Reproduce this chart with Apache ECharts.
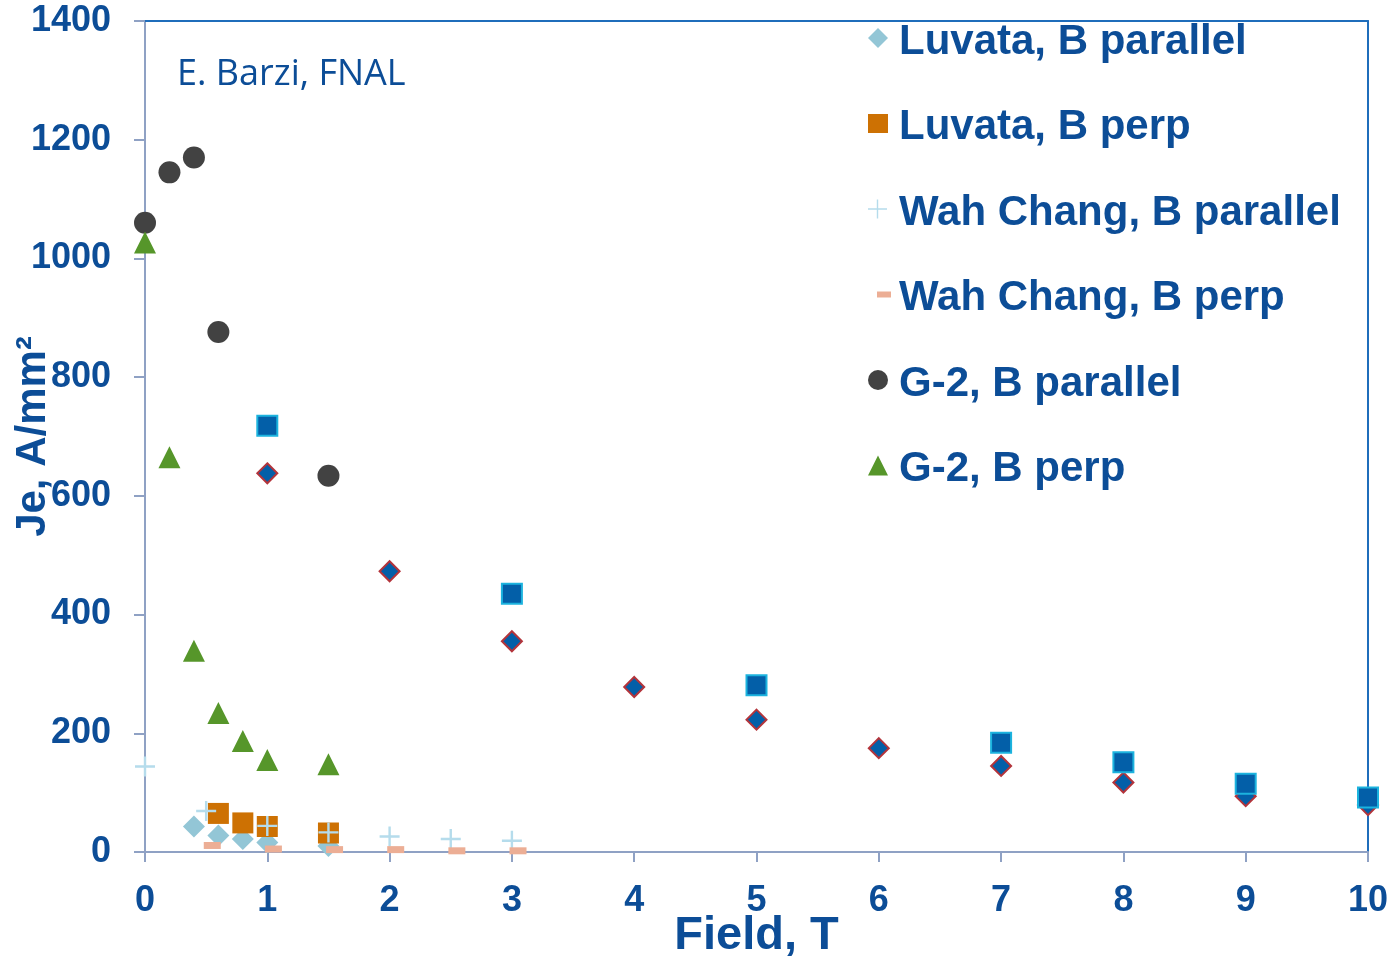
<!DOCTYPE html>
<html>
<head>
<meta charset="utf-8">
<script src="https://cdn.jsdelivr.net/npm/echarts@6/dist/echarts.min.js"></script>
<style>
html,body{margin:0;padding:0;background:#fff;}
#chart{width:1393px;height:959px;}
</style>
</head>
<body>
<div id="chart"></div>
<script>
// ---- data (Field T, Je A/mm^2) ----
const xTicks = [0,1,2,3,4,5,6,7,8,9,10];
const yTicks = [0,200,400,600,800,1000,1200,1400];

const luvataParX = [0.4, 0.6, 0.8, 1.0, 1.5];
const luvataParY = [43, 28, 22, 16, 10];

const luvataPerpX = [0.6, 0.8, 1.0, 1.5];
const luvataPerpY = [65, 49, 43, 32];

const wahParX = [0, 0.5, 1.0, 1.5, 2.0, 2.5, 3.0];
const wahParY = [144, 69, 44, 33, 26, 22, 19];

const wahPerpX = [0.55, 1.05, 1.55, 2.05, 2.55, 3.05];
const wahPerpY = [11, 5, 4, 4, 2, 2];

const g2ParX = [0, 0.2, 0.4, 0.6, 1.5];
const g2ParY = [1060, 1145, 1170, 876, 634];

const g2PerpX = [0, 0.2, 0.4, 0.6, 0.8, 1.0, 1.5];
const g2PerpY = [1027, 665, 339, 234, 187, 155, 148];

const blueDiamondX = [1, 2, 3, 4, 5, 6, 7, 8, 9, 10];
const blueDiamondY = [638, 473, 355, 278, 223, 175, 145, 117, 94, 79];

const blueSquareX = [1, 3, 5, 7, 8, 9, 10];
const blueSquareY = [718, 435, 281, 184, 151, 115, 92];

const legendNames = ['Luvata, B parallel','Luvata, B perp','Wah Chang, B parallel','Wah Chang, B perp','G-2, B parallel','G-2, B perp'];

function pts(xs, ys){ return xs.map((x,i)=>[x, ys[i]]); }

const TXT = '#0c4d97';
const AXC = '#8fa1c4';
const BORDER = '#1f6dbb';
const FONT = 'Liberation Sans, Arial, sans-serif';
const plusPath = 'path://M0,8.8H20V11.2H0Z M8.8,0H11.2V20H8.8Z';
// legend icons: 26x28 frame, visible shape in the upper-left 20x20
const FR = 'path://M0,0M26,28';
const iconDiamond = FR + 'M10,0L20,10L10,20L0,10Z';
const iconRect = FR + 'M0,0.5H20V19.5H0Z';
const iconPlus = FR + 'M0,9.3H19V10.7H0Z M8.8,0.5H10.2V19.5H8.8Z';
const iconDash = FR + 'M9,7H23V13H9Z';
const iconCircle = FR + 'M0,10A10,10,0,1,1,20,10A10,10,0,1,1,0,10Z';
const iconTriangle = FR + 'M10,0L20,20L0,20Z';

const chart = echarts.init(document.getElementById('chart'), null, {renderer:'canvas'});
const option = {
  animation: false,
  backgroundColor: '#ffffff',
  grid: {left:145, right:25, top:21, bottom:107, containLabel:false, outerBoundsMode:'none'},
  xAxis: [{
    type:'value', min:0, max:10, interval:1,
    axisLine:{show:true, onZero:false, lineStyle:{color:AXC, width:2}},
    axisTick:{show:true, inside:false, length:10, lineStyle:{color:AXC, width:2}},
    splitLine:{show:false},
    axisLabel:{margin:31, color:TXT, fontSize:36, fontWeight:'bold', fontFamily:FONT, formatter:(v)=>String(v)},
    name:'Field, T', nameLocation:'middle', nameGap:61, nameMoveOverlap:false,
    nameTextStyle:{color:TXT, fontSize:47, fontWeight:'bold', fontFamily:FONT}
  },{
    type:'value', position:'top', min:0, max:10, interval:1,
    axisLine:{show:true, onZero:false, lineStyle:{color:BORDER, width:2}},
    axisTick:{show:false}, axisLabel:{show:false}, splitLine:{show:false}
  }],
  yAxis: [{
    type:'value', min:0, max:1400, interval:200,
    axisLine:{show:true, onZero:false, lineStyle:{color:AXC, width:2}},
    axisTick:{show:true, inside:false, length:11, lineStyle:{color:AXC, width:2}},
    splitLine:{show:false},
    axisLabel:{margin:34, color:TXT, fontSize:36, fontWeight:'bold', fontFamily:FONT, formatter:(v)=>String(v)},
    name:'Je, A/mm²', nameLocation:'middle', nameGap:91, nameMoveOverlap:false,
    nameTextStyle:{color:TXT, fontSize:42, fontWeight:'bold', fontFamily:FONT}
  },{
    type:'value', position:'right', min:0, max:1400, interval:200,
    axisLine:{show:true, onZero:false, lineStyle:{color:BORDER, width:2}},
    axisTick:{show:false}, axisLabel:{show:false}, splitLine:{show:false}
  }],
  legend: {
    orient:'vertical', left:868, top:21, padding:0,
    itemWidth:26, itemHeight:28, itemGap:43.5,
    textStyle:{color:TXT, fontSize:42, lineHeight:42, fontWeight:'bold', fontFamily:FONT},
    data:[
      {name:legendNames[0], icon:iconDiamond},
      {name:legendNames[1], icon:iconRect},
      {name:legendNames[2], icon:iconPlus},
      {name:legendNames[3], icon:iconDash},
      {name:legendNames[4], icon:iconCircle},
      {name:legendNames[5], icon:iconTriangle}
    ]
  },
  graphic: [{
    type:'text', left:177, top:57, silent:true,
    style:{text:'E. Barzi, FNAL', fill:TXT, fontSize:36, fontFamily:'Open Sans, Liberation Sans, sans-serif'}
  }],
  series: [
    {name:legendNames[0], type:'scatter', data:pts(luvataParX, luvataParY), symbol:'diamond', symbolSize:22, itemStyle:{color:'#93c6d6', opacity:1}},
    {name:legendNames[1], type:'scatter', data:pts(luvataPerpX, luvataPerpY), symbol:'rect', symbolSize:21, itemStyle:{color:'#cd7103', opacity:1}},
    {name:legendNames[2], type:'scatter', data:pts(wahParX, wahParY), symbol:plusPath, symbolSize:20, itemStyle:{color:'#b5dcec', opacity:1}},
    {name:legendNames[3], type:'scatter', data:pts(wahPerpX, wahPerpY), symbol:'rect', symbolSize:[17,7], itemStyle:{color:'#ecae95', opacity:1}},
    {name:legendNames[4], type:'scatter', data:pts(g2ParX, g2ParY), symbol:'circle', symbolSize:22, itemStyle:{color:'#424242', opacity:1}},
    {name:legendNames[5], type:'scatter', data:pts(g2PerpX, g2PerpY), symbol:'triangle', symbolSize:22, itemStyle:{color:'#56962a', opacity:1}},
    {name:'Reference B parallel', type:'scatter', data:pts(blueDiamondX, blueDiamondY), symbol:'diamond', symbolSize:20, itemStyle:{color:'#035fa8', borderColor:'#b3343b', borderWidth:2, opacity:1}},
    {name:'Reference B perp', type:'scatter', data:pts(blueSquareX, blueSquareY), symbol:'rect', symbolSize:20, itemStyle:{color:'#035fa8', borderColor:'#1cb3de', borderWidth:2, opacity:1}}
  ]
};
chart.setOption(option);
</script>
</body>
</html>
